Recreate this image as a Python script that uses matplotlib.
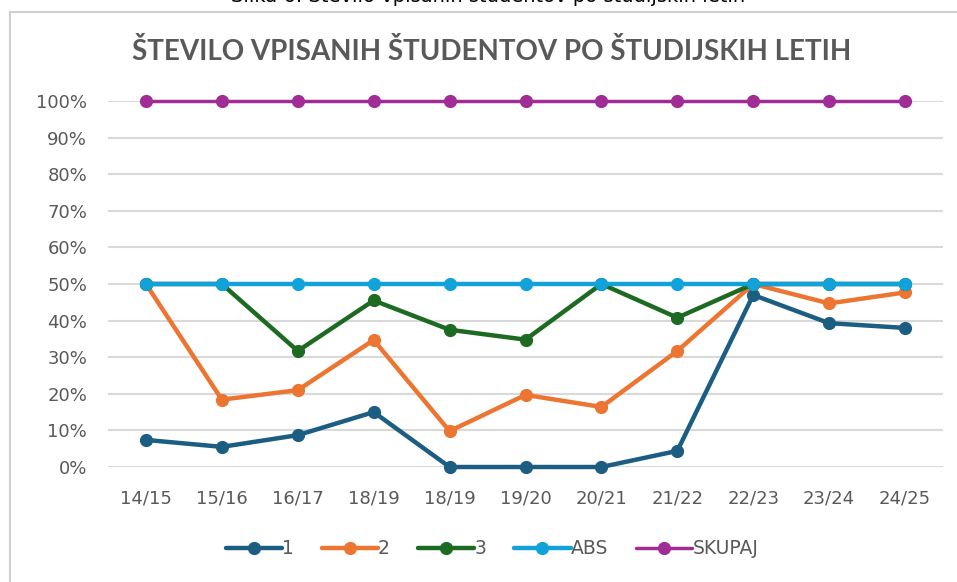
import matplotlib
matplotlib.use('Agg')
import matplotlib.pyplot as plt
from matplotlib.patches import Rectangle

leta = ['14/15', '15/16', '16/17', '18/19', '18/19', '19/20', '20/21', '21/22', '22/23', '23/24', '24/25']
s1 = [7.4, 5.5, 8.7, 15.0, 0, 0, 0, 4.4, 47.0, 39.3, 38.0]
s2 = [50, 18.4, 21.0, 34.7, 9.8, 19.7, 16.4, 31.7, 50, 44.7, 47.7]
s3 = [50, 50, 31.7, 45.5, 37.5, 34.8, 50, 40.8, 50, 50, 50]
abs_ = [50] * 11
skupaj = [100] * 11

serije = ['1', '2', '3', 'ABS', 'SKUPAJ']
barve = ['#1B5E82', '#EC7532', '#1D6B22', '#10A2D8', '#A02C96']
debeline = [3.2, 3.2, 3.2, 3.2, 2.5]

fig = plt.figure(figsize=(9.57, 5.82), dpi=100)
# okvir grafa (desni rob je izven slike)
fig.patches.append(Rectangle((10/957, -0.01), 1.0, 1-12/582+0.01, transform=fig.transFigure,
                             fill=False, edgecolor='#D0D0D0', linewidth=1.5))
# odrezan napis nad grafom
fig.text(0.51, 1-2/582, 'Slika 6: Število vpisanih študentov po študijskih letih',
         ha='center', va='baseline', fontsize=14, color='black')

ax = fig.add_axes([108/957, 1-467/582, 835/957, 366/582])
x = list(range(len(leta)))
for y, ime, c, lw in zip([s1, s2, s3, abs_, skupaj], serije, barve, debeline):
    ax.plot(x, y, '-o', color=c, lw=lw, ms=8.5, label=ime, clip_on=False, zorder=3,
            solid_capstyle='round')

ax.set_xlim(-0.5, 10.5)
ax.set_ylim(0, 100)
ax.set_yticks(range(0, 101, 10))
ax.set_yticklabels([f'{v}%' for v in range(0, 101, 10)])
ax.set_xticks(x)
ax.set_xticklabels(leta)
ax.grid(axis='y', color='#D9D9D9', lw=1.5)
ax.set_axisbelow(True)
for s in ax.spines.values():
    s.set_visible(False)
ax.tick_params(length=0, labelsize=13, labelcolor='#595959')
ax.tick_params(axis='y', pad=15)
ax.tick_params(axis='x', pad=16)

fig.text(0.514, 1-51/582, 'ŠTEVILO VPISANIH ŠTUDENTOV PO ŠTUDIJSKIH LETIH',
         ha='center', va='center', fontsize=20, fontweight='bold', color='#595959',
         family='Lato')

fig.legend(loc='center', bbox_to_anchor=(0.514, 1-549/582), ncol=5, frameon=False,
           fontsize=13.5, labelcolor='#595959', handlelength=3.0, handletextpad=0.0,
           columnspacing=1.5)

fig.savefig('out.png', dpi=100)
